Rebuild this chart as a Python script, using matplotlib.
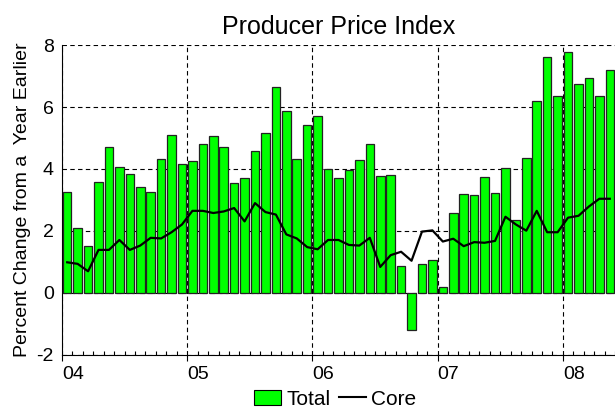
import matplotlib
matplotlib.use("Agg")
import matplotlib.pyplot as plt
from matplotlib.ticker import FixedLocator, MultipleLocator
from matplotlib.patches import Patch
from matplotlib.lines import Line2D

plt.rcParams['font.family'] = ['Liberation Sans', 'DejaVu Sans']
plt.rcParams['axes.unicode_minus'] = False

# monthly, Jan 2004 .. May 2008
total = [3.26, 2.09, 1.50, 3.59, 4.72, 4.06, 3.84, 3.41, 3.26, 4.33, 5.10, 4.17,
         4.25, 4.80, 5.06, 4.72, 3.56, 3.71, 4.58, 5.16, 6.63, 5.87, 4.32, 5.42,
         5.71, 4.00, 3.71, 3.97, 4.29, 4.80, 3.77, 3.81, 0.87, -1.20, 0.95, 1.07,
         0.18, 2.57, 3.19, 3.16, 3.74, 3.22, 4.04, 2.35, 4.37, 6.20, 7.62, 6.37,
         7.76, 6.75, 6.92, 6.37, 7.18]
core = [0.99, 0.94, 0.70, 1.39, 1.39, 1.71, 1.39, 1.53, 1.78, 1.76, 1.96, 2.21,
        2.65, 2.65, 2.58, 2.63, 2.74, 2.31, 2.90, 2.61, 2.53, 1.89, 1.76, 1.48,
        1.41, 1.71, 1.71, 1.55, 1.53, 1.78, 0.84, 1.22, 1.33, 1.04, 1.98, 2.02,
        1.66, 1.75, 1.51, 1.64, 1.62, 1.68, 2.46, 2.21, 2.01, 2.65, 1.96, 1.96,
        2.43, 2.49, 2.79, 3.04, 3.04]
year_labels = ['04', '05', '06', '07', '08']
y_ticks = [-2, 0, 2, 4, 6, 8]

x = [i + 0.5 for i in range(len(total))]

fig = plt.figure(figsize=(6.15, 4.13), dpi=100)
ax = fig.add_axes([0.1008, 0.1405, 0.8992, 0.7505])

ax.bar(x, total, width=0.82, color='#00ff00', edgecolor='#222222', linewidth=0.9, zorder=3)
ax.plot(x, core, color='black', linewidth=1.6, zorder=4)

ax.set_xlim(0, 53)
ax.set_ylim(-2, 8)
ax.set_yticks(y_ticks)
ax.xaxis.set_major_locator(FixedLocator([0, 12, 24, 36, 48]))
ax.xaxis.set_minor_locator(MultipleLocator(1))
ax.set_xticklabels(year_labels, ha='left')

ax.grid(True, color='black', linestyle=(0, (4, 3)), linewidth=0.8, zorder=1)
ax.tick_params(axis='x', which='both', labelsize=14, pad=4)
ax.tick_params(axis='x', which='major', direction='out', length=4, width=0.8)
ax.tick_params(axis='x', which='minor', direction='in', length=3, width=0.8)
ax.tick_params(axis='y', length=0, labelsize=14, pad=6)

ax.spines['top'].set_visible(False)
ax.spines['right'].set_visible(False)

ax.set_title('Producer Price Index', fontsize=18, pad=8)
ax.set_ylabel('Percent Change from a  Year Earlier', fontsize=14, labelpad=4)

handles = [Patch(facecolor='#00ff00', edgecolor='black', linewidth=0.8),
           Line2D([], [], color='black', linewidth=1.5)]
fig.legend(handles, ['Total', 'Core'], loc='lower center', ncol=2, frameon=False,
           fontsize=15, bbox_to_anchor=(0.545, -0.035), handlelength=1.3,
           handletextpad=0.25, columnspacing=0.4)

fig.savefig('out.png', dpi=100)
